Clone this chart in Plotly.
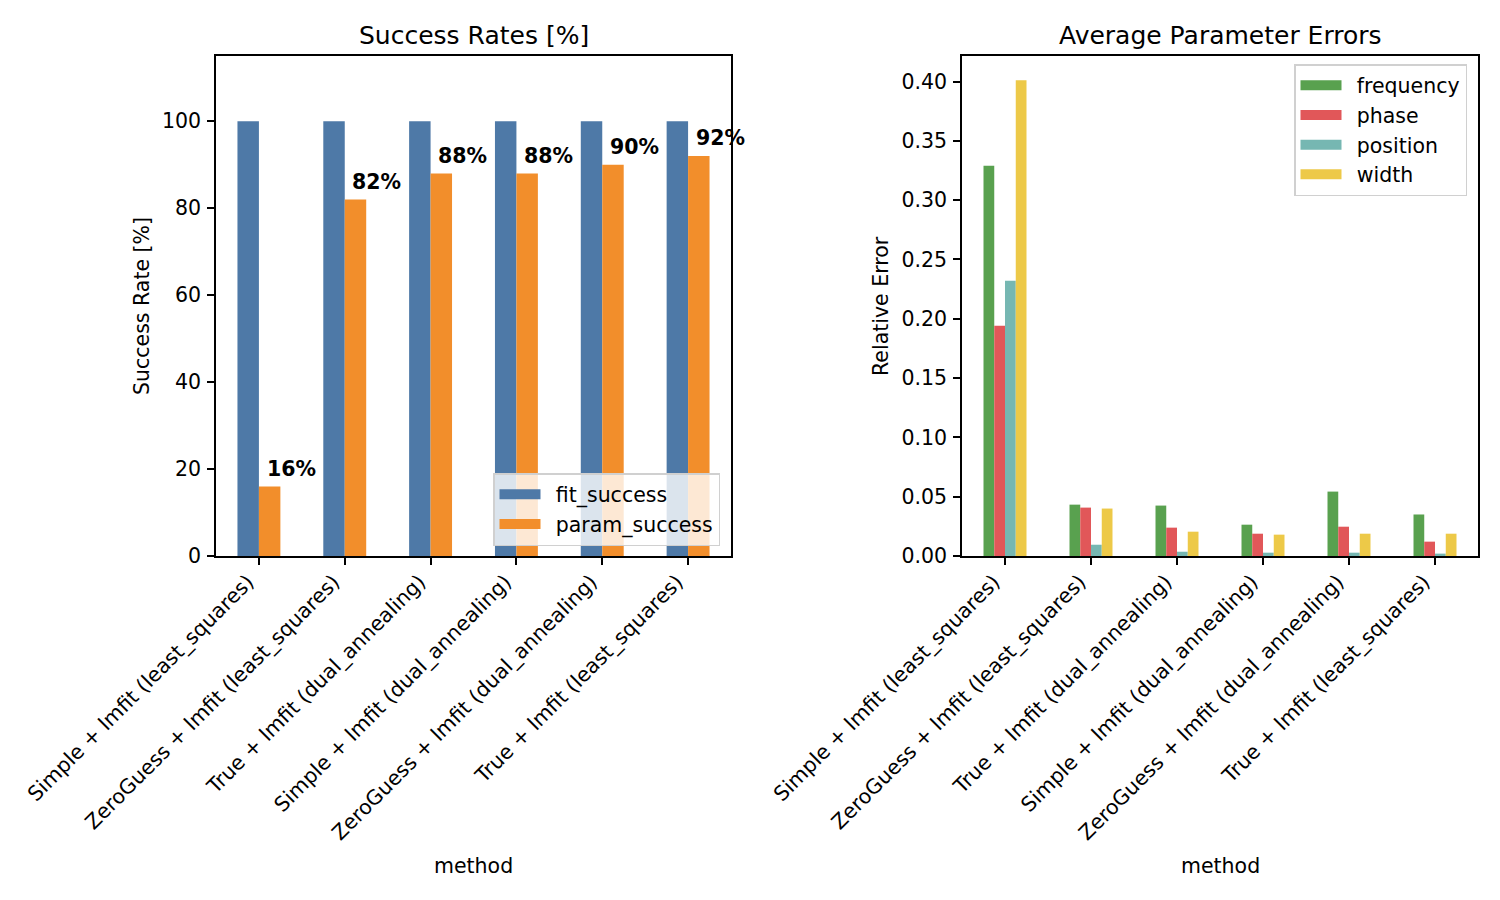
import plotly.graph_objects as go

methods = [
    "Simple + lmfit (least_squares)",
    "ZeroGuess + lmfit (least_squares)",
    "True + lmfit (dual_annealing)",
    "Simple + lmfit (dual_annealing)",
    "ZeroGuess + lmfit (dual_annealing)",
    "True + lmfit (least_squares)",
]
fit_success = [100, 100, 100, 100, 100, 100]
param_success = [16, 82, 88, 88, 90, 92]

frequency = [0.329, 0.0433, 0.0425, 0.0264, 0.0543, 0.035]
phase = [0.194, 0.0408, 0.0239, 0.0188, 0.0247, 0.0121]
position = [0.232, 0.0095, 0.0036, 0.0028, 0.0028, 0.002]
width = [0.401, 0.040, 0.0205, 0.018, 0.0188, 0.0188]

left_ticks = [0, 20, 40, 60, 80, 100]
right_ticks = [0.0, 0.05, 0.10, 0.15, 0.20, 0.25, 0.30, 0.35, 0.40]

OFF = 8  # page body margin
W, H = 1500 - 2 * OFF, 900 - 2 * OFF
FONT = "DejaVu Sans"
FS = 20.5
xpos = list(range(len(methods)))
GAP = "\u2002"  # spacing between legend swatch and label


def px2y(p):
    return 1 - (p - OFF) / H


def px2x(p):
    return (p - OFF) / W


fig = go.Figure()

left_series = [("fit_success", fit_success, "#4E79A7"), ("param_success", param_success, "#F28E2B")]
for i, (nm, vals, col) in enumerate(left_series):
    fig.add_trace(go.Bar(x=xpos, y=vals, name=nm, marker_color=col, marker_line_width=0,
                         xaxis="x", yaxis="y", showlegend=False, offsetgroup="l%d" % i))
    fig.add_trace(go.Scatter(x=[None], y=[None], mode="lines", name=GAP + nm,
                             line=dict(color=col, width=14), xaxis="x", yaxis="y", legend="legend"))

right_series = [("frequency", frequency, "#59A14F"), ("phase", phase, "#E15759"),
                ("position", position, "#76B7B2"), ("width", width, "#EDC948")]
for i, (nm, vals, col) in enumerate(right_series):
    fig.add_trace(go.Bar(x=xpos, y=vals, name=nm, marker_color=col, marker_line_width=0,
                         xaxis="x2", yaxis="y2", showlegend=False, offsetgroup="r%d" % i))
    fig.add_trace(go.Scatter(x=[None], y=[None], mode="lines", name=GAP + nm,
                             line=dict(color=col, width=14), xaxis="x2", yaxis="y2", legend="legend2"))

ax_common = dict(showline=True, linecolor="black", linewidth=1.6, mirror=True,
                 ticks="outside", ticklen=7, tickwidth=1.6, tickcolor="black",
                 showgrid=False, zeroline=False, automargin=False,
                 tickfont=dict(family=FONT, size=FS, color="black"))
xa_extra = dict(tickangle=-45, ticklabelshift=-11, ticklabelstandoff=-3)
leg_common = dict(bgcolor="rgba(255,255,255,0.8)", bordercolor="#d0d0d0", borderwidth=1.5,
                  font=dict(family=FONT, size=FS), traceorder="normal", itemwidth=41)

fig.update_layout(
    width=W, height=H,
    margin=dict(l=0, r=0, t=0, b=0),
    paper_bgcolor="white", plot_bgcolor="white",
    barmode="group", bargap=0.5, bargroupgap=0,
    font=dict(family=FONT, size=FS, color="black"),
    xaxis=dict(domain=[px2x(216), px2x(731)], range=[-0.5, 5.5], tickvals=xpos, ticktext=methods,
               anchor="y", **xa_extra, **ax_common),
    yaxis=dict(domain=[px2y(556), px2y(56)], range=[0, 115], tickvals=left_ticks,
               ticktext=[str(v) for v in left_ticks], anchor="x", ticklabelstandoff=2, **ax_common),
    xaxis2=dict(domain=[px2x(962), px2x(1478)], range=[-0.5, 5.5], tickvals=xpos, ticktext=methods,
                anchor="y2", **xa_extra, **ax_common),
    yaxis2=dict(domain=[px2y(556), px2y(56)], range=[0, 0.4215], tickvals=right_ticks,
                ticktext=["%.2f" % v for v in right_ticks], anchor="x2", ticklabelstandoff=2, **ax_common),
    legend=dict(x=px2x(720), y=px2y(546), xanchor="right", yanchor="bottom", **leg_common),
    legend2=dict(x=px2x(1467), y=px2y(64), xanchor="right", yanchor="top", **leg_common),
)

annotations = []
# bar labels
for i, v in enumerate(param_success):
    annotations.append(dict(x=i + 0.1, y=v + 2, xref="x", yref="y", text="<b>%d%%</b>" % v,
                            showarrow=False, xanchor="left", yanchor="bottom", yshift=-5, xshift=-3,
                            font=dict(family=FONT, size=FS, color="black")))
# titles
annotations.append(dict(x=px2x((216 + 731) / 2), y=px2y(35), xref="paper", yref="paper",
                        text="Success Rates [%]", showarrow=False, xanchor="center", yanchor="middle",
                        font=dict(family=FONT, size=25, color="black")))
annotations.append(dict(x=px2x((962 + 1478) / 2), y=px2y(35), xref="paper", yref="paper",
                        text="Average Parameter Errors", showarrow=False, xanchor="center", yanchor="middle",
                        font=dict(family=FONT, size=25, color="black")))
# axis labels
for cx in [(216 + 731) / 2, (962 + 1478) / 2]:
    annotations.append(dict(x=px2x(cx), y=px2y(866), xref="paper", yref="paper",
                            text="method", showarrow=False, xanchor="center", yanchor="middle",
                            font=dict(family=FONT, size=FS, color="black")))
annotations.append(dict(x=px2x(142), y=px2y(306), xref="paper", yref="paper",
                        text="Success Rate [%]", showarrow=False, xanchor="center", yanchor="middle",
                        textangle=-90, font=dict(family=FONT, size=FS, color="black")))
annotations.append(dict(x=px2x(881), y=px2y(306), xref="paper", yref="paper",
                        text="Relative Error", showarrow=False, xanchor="center", yanchor="middle",
                        textangle=-90, font=dict(family=FONT, size=FS, color="black")))
fig.update_layout(annotations=annotations)

fig.write_html("out.html")
